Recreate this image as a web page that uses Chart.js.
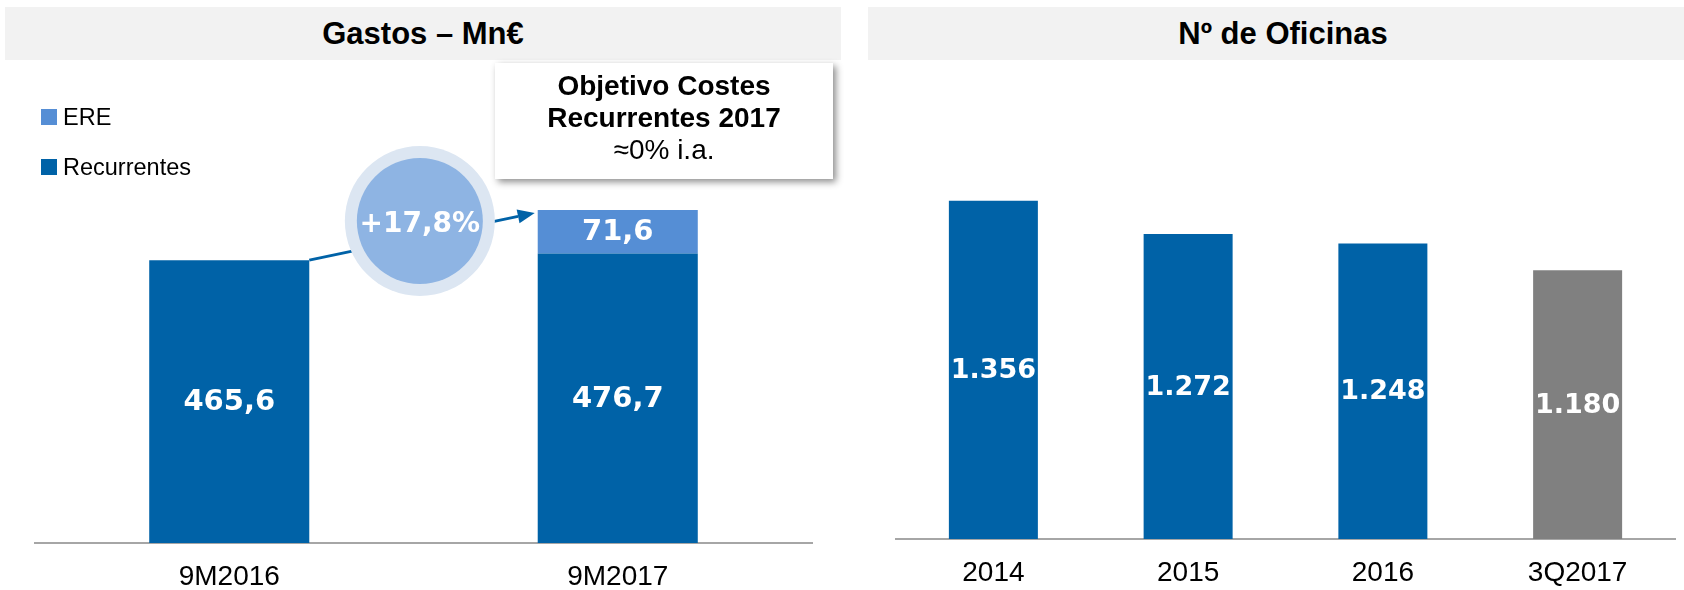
<!DOCTYPE html>
<html><head><meta charset="utf-8">
<script src="https://cdn.jsdelivr.net/npm/chart.js@4.4.0/dist/chart.umd.min.js"></script>
<style>
html,body{margin:0;padding:0;background:#fff;width:1684px;height:590px;overflow:hidden;font-family:"Liberation Sans",Arial,sans-serif;}
#w1{position:absolute;left:0;top:0;width:842px;height:590px;}
#w2{position:absolute;left:842px;top:0;width:842px;height:590px;}
.band{position:absolute;top:7px;height:53px;background:#f2f2f2;text-align:center;font-weight:bold;font-size:31px;line-height:53px;color:#000;z-index:2;box-sizing:border-box;}
#box{position:absolute;left:495px;top:63px;width:338px;height:116px;background:#fff;box-shadow:3px 3px 7px rgba(0,0,0,0.45);text-align:center;font-size:28px;line-height:32px;color:#000;z-index:3;box-sizing:border-box;padding-top:7px;}
#box b{font-weight:bold;}
.leg{position:absolute;left:41px;height:16px;font-size:23.5px;line-height:16px;color:#000;z-index:2;white-space:nowrap;}
.leg span.sq{display:inline-block;width:16px;height:16px;vertical-align:top;margin-right:6px;}
</style></head>
<body>
<div id="w1"><canvas id="c1" width="842" height="590"></canvas></div>
<div id="w2"><canvas id="c2" width="842" height="590"></canvas></div>
<div class="band" style="left:5px;width:836px;">Gastos – Mn€</div>
<div class="band" style="left:868px;width:816px;padding-left:14px;">Nº de Oficinas</div>
<div id="box"><b>Objetivo Costes</b><br><b>Recurrentes 2017</b><br>≈0% i.a.</div>
<div id="legend"></div>
<script>
// ---- Data ----
const gastosCategories = ['9M2016', '9M2017'];
const recurrentes = [465.6, 476.7];
const ere = [null, 71.6];
const seriesNames = ['ERE', 'Recurrentes'];

const oficinasCategories = ['2014', '2015', '2016', '3Q2017'];
const oficinas = [1356, 1272, 1248, 1180];

const DARK = '#0062a7';
const LIGHT = '#558ed5';
const GREY = '#808080';

function fmtDec(v){ return v.toFixed(1).replace('.', ','); }
function fmtThousands(v){ return String(Math.round(v)).replace(/\B(?=(\d{3})+(?!\d))/g, '.'); }

// HTML legend from series names/colours
(function(){
  const cols = [LIGHT, DARK];
  const tops = [109, 159];
  let h = '';
  seriesNames.forEach((n,i)=>{
    h += '<div class="leg" style="top:'+tops[i]+'px"><span class="sq" style="background:'+cols[i]+'"></span>'+n+'</div>';
  });
  document.getElementById('legend').innerHTML = h;
})();

const FONT = '"Liberation Sans", Arial, sans-serif';
const VFONT = '"DejaVu Sans", "Liberation Sans", sans-serif';

const valueLabels = {
  id: 'valueLabels',
  afterDatasetsDraw(chart, args, opts) {
    const ctx = chart.ctx;
    const bottom = chart.chartArea.bottom;
    ctx.save();
    ctx.fillStyle = '#fff';
    ctx.font = 'bold ' + opts.size + 'px ' + VFONT;
    ctx.textAlign = 'center';
    ctx.textBaseline = 'middle';
    chart.data.datasets.forEach((ds, di) => {
      const meta = chart.getDatasetMeta(di);
      meta.data.forEach((el, i) => {
        const v = ds.data[i];
        if (v === null || v === undefined) return;
        const base = Math.min(el.base, bottom);
        const y = (el.y + base) / 2;
        ctx.fillText(opts.fmt(v), el.x, y + 1);
      });
    });
    ctx.restore();
  }
};

const growthBubble = {
  id: 'growthBubble',
  afterDatasetsDraw(chart) {
    const ctx = chart.ctx;
    const m0 = chart.getDatasetMeta(0);
    const m1 = chart.getDatasetMeta(1);
    const b0 = m0.data[0];
    const eb = m1.data[1];
    const x0 = b0.x + b0.width / 2, y0 = b0.y;
    const x1 = eb.x - eb.width / 2 - 3, y1 = eb.y + 3;
    ctx.save();
    ctx.strokeStyle = DARK; ctx.fillStyle = DARK; ctx.lineWidth = 3;
    const ang = Math.atan2(y1 - y0, x1 - x0);
    const hl = 17, hw = 7;
    const bx = x1 - hl * Math.cos(ang), by = y1 - hl * Math.sin(ang);
    ctx.beginPath(); ctx.moveTo(x0, y0); ctx.lineTo(bx, by); ctx.stroke();
    ctx.beginPath();
    ctx.moveTo(x1, y1);
    ctx.lineTo(bx + hw * Math.sin(ang), by - hw * Math.cos(ang));
    ctx.lineTo(bx - hw * Math.sin(ang), by + hw * Math.cos(ang));
    ctx.closePath(); ctx.fill();
    // bubble
    const cx = x0 + (eb.x - eb.width / 2 - x0) * 0.484;
    const cy = chart.scales.y.getPixelForValue(530);
    ctx.fillStyle = '#dce6f2';
    ctx.beginPath(); ctx.arc(cx, cy, 75, 0, Math.PI * 2); ctx.fill();
    ctx.fillStyle = '#8eb4e3';
    ctx.beginPath(); ctx.arc(cx, cy, 63, 0, Math.PI * 2); ctx.fill();
    const tot0 = recurrentes[0] + (ere[0] || 0);
    const tot1 = recurrentes[1] + (ere[1] || 0);
    const g = (tot1 / tot0 - 1) * 100;
    ctx.fillStyle = '#fff';
    ctx.font = 'bold 28px ' + VFONT;
    ctx.textAlign = 'center'; ctx.textBaseline = 'middle';
    ctx.fillText('+' + fmtDec(g) + '%', cx, cy + 4);
    ctx.restore();
  }
};

Chart.defaults.font.family = FONT;
Chart.defaults.color = '#000';

new Chart(document.getElementById('c1'), {
  type: 'bar',
  data: {
    labels: gastosCategories,
    datasets: [
      { label: seriesNames[1], data: recurrentes, backgroundColor: DARK, categoryPercentage: 1, barPercentage: 0.412 },
      { label: seriesNames[0], data: ere, backgroundColor: LIGHT, categoryPercentage: 1, barPercentage: 0.412 }
    ]
  },
  options: {
    responsive: false, animation: false,
    layout: { padding: { left: 35, right: 30, top: 57, bottom: 0 } },
    plugins: { legend: { display: false }, tooltip: { enabled: false }, valueLabels: { fmt: fmtDec, size: 29 } },
    scales: {
      x: { stacked: true, grid: { display: false, drawTicks: false, tickLength: 0 },
           border: { display: true, color: '#a6a6a6', width: 2 },
           afterFit: (s) => { s.height = 47; },
           ticks: { padding: 21.4, font: { size: 28, lineHeight: 0.9 }, color: '#000' } },
      y: { stacked: true, display: false, min: 0, max: 800 }
    }
  },
  plugins: [valueLabels, growthBubble]
});

new Chart(document.getElementById('c2'), {
  type: 'bar',
  data: {
    labels: oficinasCategories,
    datasets: [
      { label: 'Oficinas', data: oficinas,
        backgroundColor: oficinasCategories.map((c, i) => i === oficinasCategories.length - 1 ? GREY : DARK),
        categoryPercentage: 1, barPercentage: 0.457 }
    ]
  },
  options: {
    responsive: false, animation: false,
    layout: { padding: { left: 54, right: 9, top: 57, bottom: 0 } },
    plugins: { legend: { display: false }, tooltip: { enabled: false }, valueLabels: { fmt: fmtThousands, size: 27 } },
    scales: {
      x: { grid: { display: false, drawTicks: false, tickLength: 0 },
           border: { display: true, color: '#a6a6a6', width: 2 },
           afterFit: (s) => { s.height = 51; },
           ticks: { padding: 21.9, font: { size: 28, lineHeight: 0.9 }, color: '#000' } },
      y: { display: false, min: 500, max: 1720 }
    }
  },
  plugins: [valueLabels]
});
</script>
</body></html>
